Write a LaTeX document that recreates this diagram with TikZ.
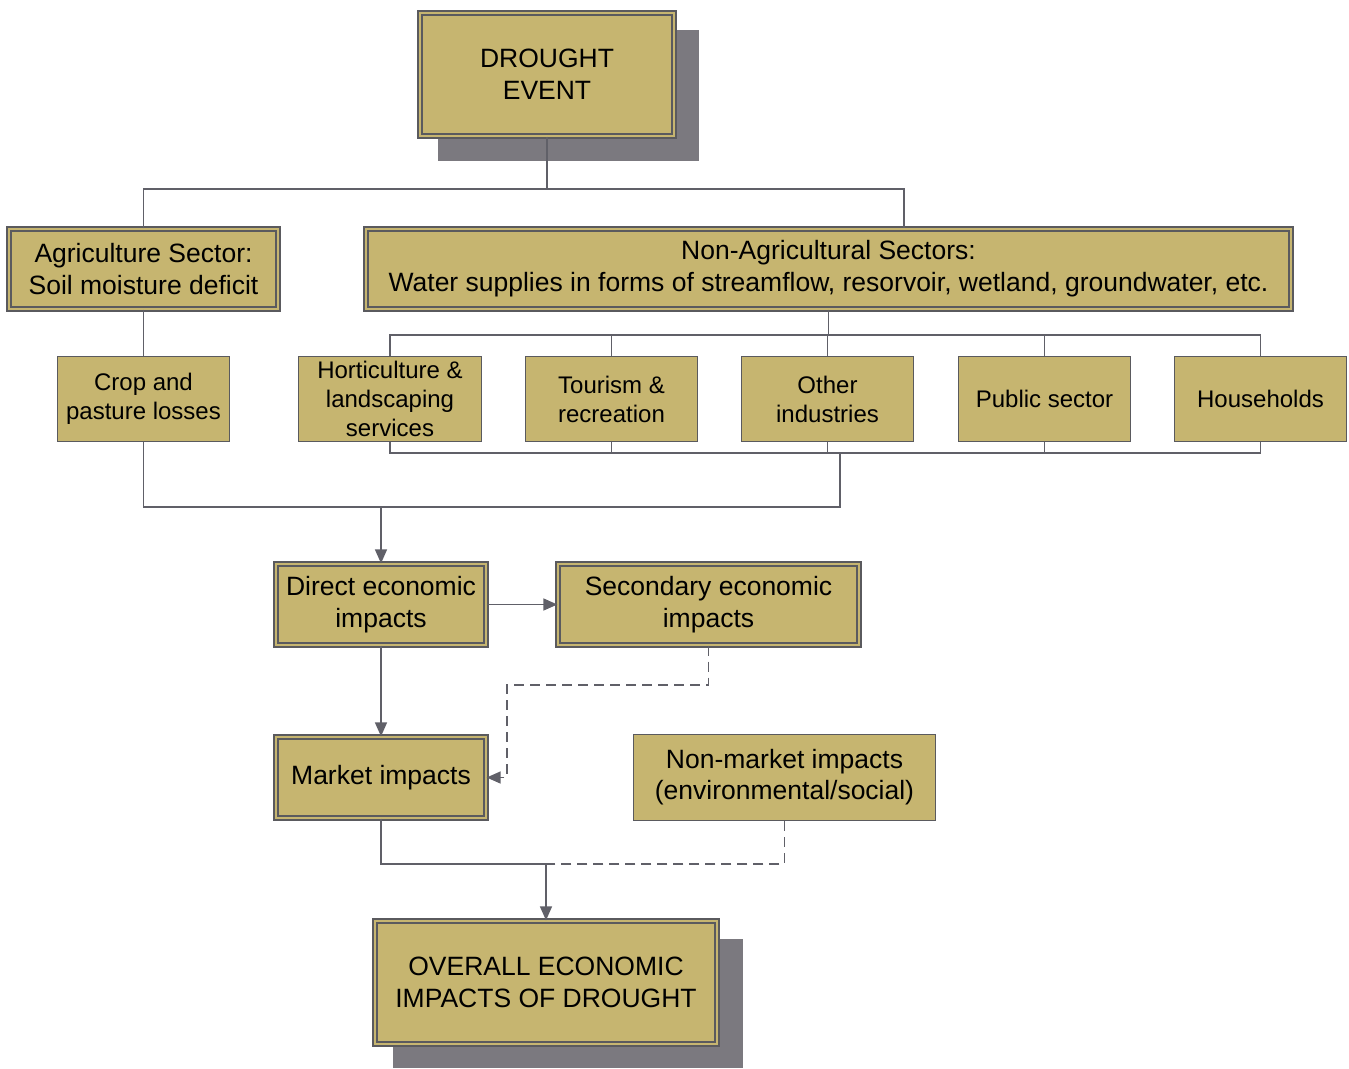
\documentclass[tikz,border=0pt]{standalone}
\usepackage{fontspec}
\setmainfont{Liberation Sans}
\usetikzlibrary{arrows.meta,calc}
\definecolor{boxfill}{HTML}{C6B570}
\definecolor{boxline}{HTML}{5A5A5E}
\definecolor{shadowgray}{HTML}{7B797F}
\definecolor{wirecol}{HTML}{606068}
\tikzset{
  box/.style={draw=boxline, fill=boxfill, line width=1.3pt, align=center, inner sep=2pt,
    font=\fontsize{24}{29}\selectfont},
  dbox/.style={box, double=boxfill, double distance=2.5pt, font=\fontsize{26.5}{32}\selectfont},
  wire/.style={draw=wirecol, line width=1.6pt},
  link/.style={wire, -{Triangle[length=14pt,width=12pt]}},
  dlink/.style={link, dash pattern=on 10pt off 6pt},
}

\begin{document}
\begin{tikzpicture}[x=1pt,y=-1pt]
	\useasboundingbox (0,0) rectangle (1349,1068);
	
	% shadows
	\fill[shadowgray] (438,30) rectangle (699,161);
	\fill[shadowgray] (393,939) rectangle (743,1068);
	
	\node[dbox, minimum width=254, minimum height=123] (drought) at (547,74.5) {DROUGHT\\EVENT};
	
	\node[dbox, minimum width=269, minimum height=80] (agri) at (143.5,269) {Agriculture Sector:\\Soil moisture deficit};
	\node[dbox, minimum width=925, minimum height=80] (nonag) at (828.5,269) {Non-Agricultural Sectors:\\Water supplies in forms of streamflow, resorvoir, wetland, groundwater, etc.};
	
	\node[box, minimum width=172, minimum height=85] (crop) at (143.5,399) {Crop and\\pasture losses};
	\node[box, minimum width=183, minimum height=85] (hort) at (390,399) {Horticulture \&\\landscaping\\services};
	\node[box, minimum width=172, minimum height=85] (tour) at (611.5,399) {Tourism \&\\recreation};
	\node[box, minimum width=172, minimum height=85] (other) at (827.5,399) {Other\\industries};
	\node[box, minimum width=172, minimum height=85] (public) at (1044.5,399) {Public sector};
	\node[box, minimum width=172, minimum height=85] (house) at (1260.5,399) {Households};
	
	\node[dbox, minimum width=210, minimum height=81] (direct) at (381,604.5) {Direct economic\\impacts};
	\node[dbox, minimum width=301, minimum height=81] (second) at (708.5,604.5) {Secondary economic\\impacts};
	\node[dbox, minimum width=210, minimum height=81] (market) at (381,777.5) {Market impacts};
	\node[box, minimum width=302, minimum height=86, font=\fontsize{26.5}{31}\selectfont] (nonmkt) at (784.5,777.5) {Non-market impacts\\(environmental/social)};
	
	\node[dbox, minimum width=342, minimum height=123] (overall) at (546,982.5) {OVERALL ECONOMIC\\IMPACTS OF DROUGHT};
	
	% tree from the event
	\coordinate (split) at (547,189);
	\draw[wire] (drought.south) -- (split);
	\draw[wire] (agri.north) |- (split) -| ([xshift=75.5pt]nonag.north);
	\draw[wire] (agri.south) -- (crop.north);
	
	\coordinate (fan) at (828.5,335);
	\draw[wire] (nonag.south) -- (fan);
	\draw[wire] (hort.north) |- (house.north |- fan) -- (house.north);
	\foreach \n in {tour,other,public}
		\draw[wire] (\n.north) -- (\n.north |- fan);
	
	\coordinate (gather) at (840,453);
	\draw[wire] (hort.south) |- (house.south |- gather) -- (house.south);
	\foreach \n in {tour,other,public}
		\draw[wire] (\n.south) -- (\n.south |- gather);
	
	\coordinate (merge) at (381,507);
	\draw[wire] (crop.south) |- (gather |- merge) -- (gather);
	\draw[link] (merge) -- (direct.north);
	
	\draw[link] (direct) -- (second);
	\draw[link] (direct) -- (market);
	
	\coordinate (bend) at (507,685);
	\draw[dlink] (second.south) |- (bend) |- (market.east);
	
	\coordinate (meet) at (546,864);
	\draw[wire] (market.south) |- (meet);
	\draw[wire, dash pattern=on 10pt off 6pt] (nonmkt.south) |- (meet);
	\draw[link] (meet) -- (overall.north);
\end{tikzpicture}
\end{document}
